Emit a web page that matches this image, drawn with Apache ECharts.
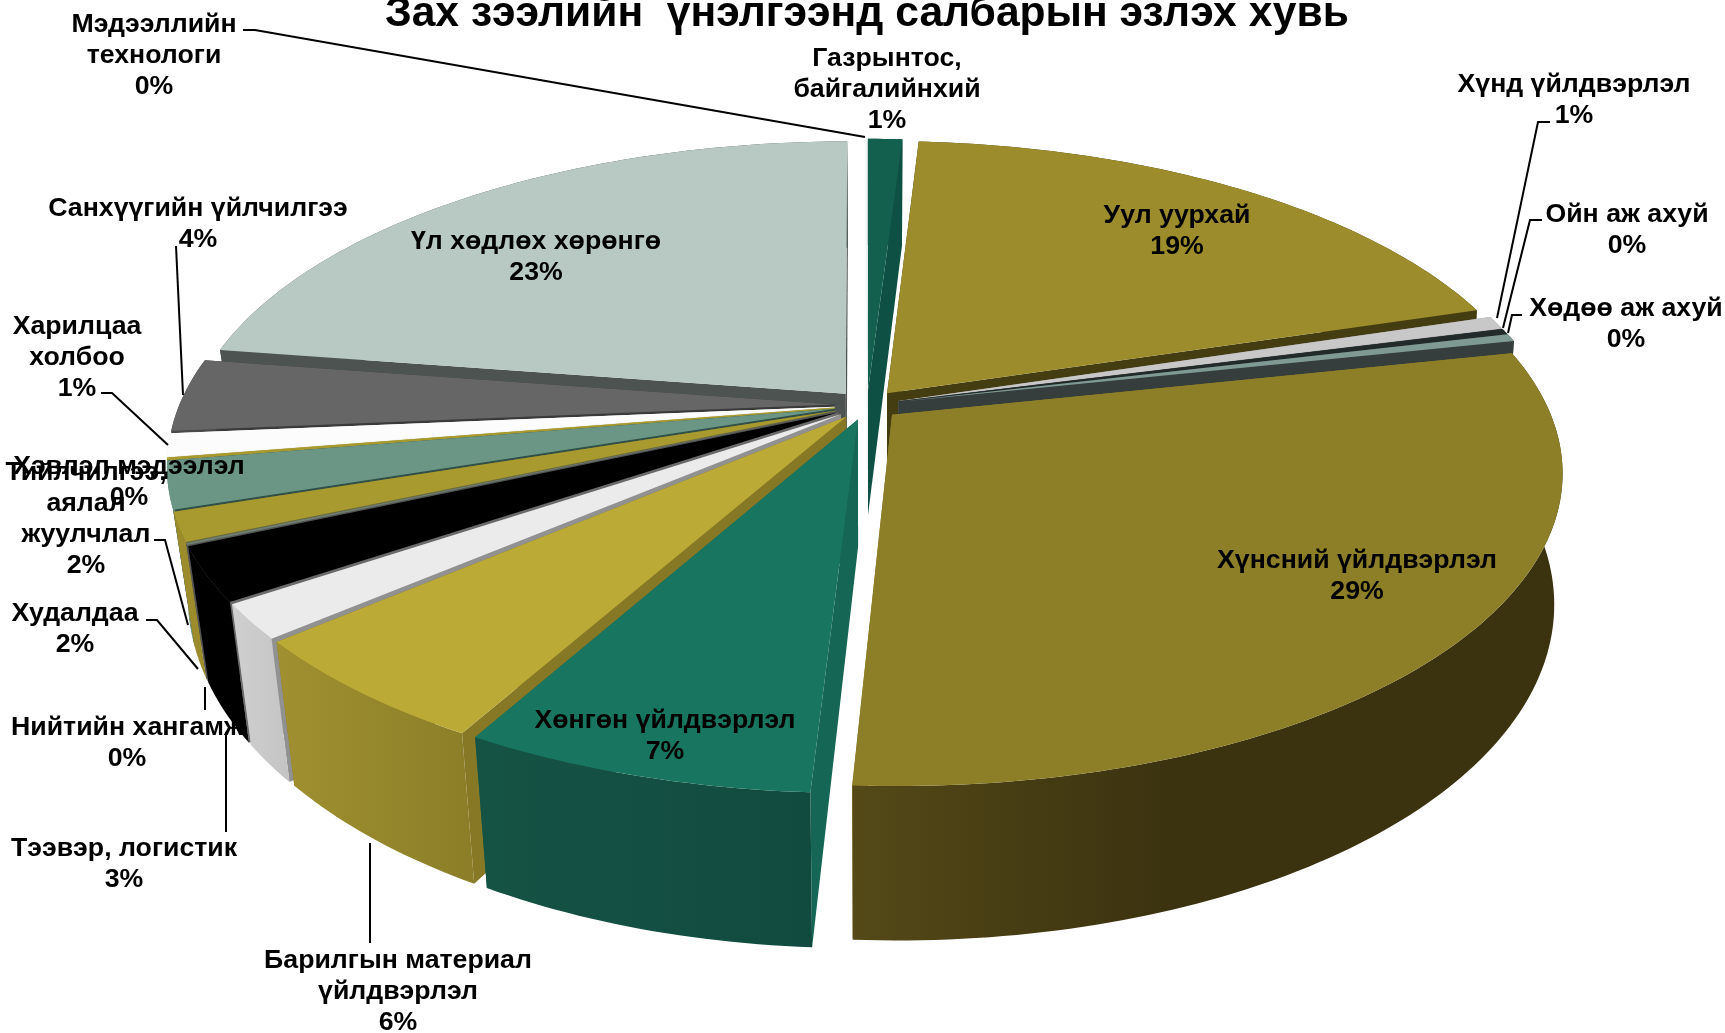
<!DOCTYPE html>
<html>
<head>
<meta charset="utf-8">
<title>Зах зээлийн үнэлгээнд салбарын эзлэх хувь</title>
<style>
  html, body { margin: 0; padding: 0; background: #fff; }
  #main { width: 1725px; height: 1033px; }
</style>
<script src="https://cdn.jsdelivr.net/npm/echarts@6/dist/echarts.min.js"></script>
</head>
<body>
<div id="main"></div>
<script>
// slices run clockwise from the top of the pie
const categories = ['Газрынтос,\nбайгалийнхий', 'Уул уурхай', 'Хүнд үйлдвэрлэл', 'Ойн аж ахуй', 'Хөдөө аж ахуй',
  'Хүнсний үйлдвэрлэл', 'Хөнгөн үйлдвэрлэл', 'Барилгын материал\nүйлдвэрлэл', '', 'Тээвэр, логистик',
  'Нийтийн хангамж', 'Худалдаа', 'Тийлчилгээ,\nаялал\nжуулчлал', 'Хэвлэл мэдээлэл', 'Харилцаа\nхолбоо',
  'Санхүүгийн үйлчилгээ', 'Үл хөдлөх хөрөнгө', 'Мэдээллийн\nтехнологи'];
const values = [1.0, 19.3, 0.7, 0.3, 0.4, 29.35, 7.2, 5.65, 1.8, 2.8, 0.1, 1.5, 2.45, 0.1, 1.2, 3.8, 22.6, 0.05];

// styles, one per slice
const topColors = ['#14604f', '#9c8c2c', '#c8c8c8', '#222a2a', '#7f9993', '#8d7f27', '#18755f', '#bbaa35', '#ebebeb',
  '#000000', '#6f7f6f', '#a89a2e', '#6b9686', '#a89a2e', '#fcfcfc', '#666666', '#b8c9c3', '#f4f6f5'];
const wallLeft = ['#0f5045', '#453d12', '#8a8a8a', '#222a2a', '#353d3d', '#544917', '#155345', '#a09030', '#d0d0d0',
  '#000000', '#555555', '#9c8c2c', '#5f8a7a', '#a89a2e', '#eeeeee', '#4a4a4a', '#4c5350', '#f4f6f5'];
const wallRight = ['#0f5045', '#453d12', '#8a8a8a', '#222a2a', '#353d3d', '#3b3210', '#114b3f', '#8b7e28', '#c4c4c4',
  '#000000', '#555555', '#9c8c2c', '#5f8a7a', '#a89a2e', '#eeeeee', '#4a4a4a', '#4c5350', '#f4f6f5'];
const sideColors = ['#0f5045', '#453d12', '#8f8f8f', '#222a2a', '#353d3d', '#8d7f27', '#166655', '#877826', '#919191',
  '#6a6a6a', '#555555', '#6d6a3a', '#2f4f47', '#a89a2e', '#eeeeee', '#3a3a3a', '#4c5350', '#f4f6f5'];

// label centres in page pixels, same order as categories
const labelPos = [[887, 90], [1177, 231], [1574, 100], [1627, 230], [1626, 324], [1357, 576], [665, 736], [398, 992],
  null, [124, 864], [127, 743], [75, 629], [86, 519], [129, 482], [77, 358], [198, 224], [536, 257], [154, 56]];
const leaders = [
  [[243, 30], [255, 30], [865, 137]],
  [[1550, 122], [1538, 122], [1497, 318]],
  [[1542, 220], [1530, 220], [1503, 328]],
  [[1522, 315], [1512, 315], [1508, 333]],
  [[176, 246], [183, 395]],
  [[101, 393], [112, 393], [168, 445]],
  [[154, 540], [165, 540], [188, 625]],
  [[146, 620], [157, 620], [198, 669]],
  [[205, 687], [205, 710]],
  [[226, 732], [226, 832]],
  [[370, 843], [370, 943]]
];

// pie geometry
const cx = 867, cy = 405, Rx = 655, Ry = 301, depth = 126;
const persp = 0.1785, shrinkLeft = 0.03, shrinkRight = 0.012, explode = 0.05;
const total = values.reduce((a, b) => a + b, 0);
const rad = Math.PI / 180;

let acc = 0;
const slices = values.map((v, i) => {
  const a0 = acc / total * 360;
  acc += v;
  const a1 = acc / total * 360;
  const mid = (a0 + a1) / 2 * rad;
  return { i, a0, a1, ex: explode * Math.sin(mid), ey: -explode * Math.cos(mid) };
});
// paint far slices first
const order = slices.slice().sort((a, b) => a.ey - b.ey);

function topPoint(U, V) {
  const d = 1 - persp * V;
  return [cx + Rx * U / d, cy + Ry * V / d];
}
function bottomPoint(U, V) {
  const d = 1 - persp * V;
  const p = topPoint(U, V);
  const shrink = p[0] < cx ? shrinkLeft : shrinkRight;
  return [cx + (p[0] - cx) * (1 - shrink), p[1] + depth / d];
}
function rimUV(s, deg) {
  return [s.ex + Math.sin(deg * rad), s.ey - Math.cos(deg * rad)];
}

function renderSlice(params) {
  const s = order[params.dataIndex];
  const i = s.i;
  const steps = Math.max(2, Math.ceil(s.a1 - s.a0));
  const rim = [];
  for (let k = 0; k <= steps; k++) rim.push(rimUV(s, s.a0 + (s.a1 - s.a0) * k / steps));
  const apexT = topPoint(s.ex, s.ey);
  const apexB = bottomPoint(s.ex, s.ey);
  const rimT = rim.map(r => topPoint(r[0], r[1]));
  const rimB = rim.map(r => bottomPoint(r[0], r[1]));
  const side = { fill: sideColors[i] };
  // the big front wall goes flat about halfway across
  const fade = i === 5 ? 0.45 : 1;
  return {
    type: 'group',
    children: [
      { type: 'polygon', shape: { points: [apexT, rimT[0], rimB[0], apexB] }, style: side, silent: true },
      { type: 'polygon', shape: { points: [apexT, rimT[steps], rimB[steps], apexB] }, style: side, silent: true },
      {
        type: 'polygon',
        shape: { points: rimT.concat(rimB.slice().reverse()) },
        style: {
          fill: new echarts.graphic.LinearGradient(0, 0, 1, 0, [
            { offset: 0, color: wallLeft[i] }, { offset: fade, color: wallRight[i] }, { offset: 1, color: wallRight[i] }
          ])
        },
        silent: true
      },
      { type: 'polygon', shape: { points: [apexT].concat(rimT) }, style: { fill: topColors[i] }, silent: true }
    ]
  };
}

function renderLabel(params) {
  const i = params.dataIndex;
  if (!labelPos[i]) return null;
  return {
    type: 'text',
    silent: true,
    style: {
      x: labelPos[i][0],
      y: labelPos[i][1],
      text: categories[i] + '\n' + Math.round(values[i]) + '%',
      align: 'center',
      verticalAlign: 'middle',
      fill: '#000',
      font: 'bold 26.7px "Liberation Sans", Arial, sans-serif',
      lineHeight: 31
    }
  };
}

const chart = echarts.init(document.getElementById('main'));
chart.setOption({
  animation: false,
  title: {
    text: 'Зах зээлийн  үнэлгээнд салбарын эзлэх хувь',
    left: 385,
    top: -7,
    padding: 0,
    textStyle: { color: '#000', fontSize: 42.6, fontWeight: 'bold', fontFamily: '"Liberation Sans", Arial, sans-serif' }
  },
  series: [
    {
      type: 'custom',
      coordinateSystem: 'none',
      clip: false,
      renderItem: renderSlice,
      data: order.map(s => ({ name: categories[s.i], value: values[s.i] })),
      z: 2
    },
    {
      type: 'custom',
      coordinateSystem: 'none',
      renderItem: (params) => ({
        type: 'polyline',
        silent: true,
        shape: { points: leaders[params.dataIndex] },
        style: { stroke: '#000', lineWidth: 2, fill: null }
      }),
      data: leaders.map((l, i) => i),
      z: 3
    },
    {
      type: 'custom',
      coordinateSystem: 'none',
      renderItem: renderLabel,
      data: values,
      z: 4
    }
  ]
});
</script>
</body>
</html>
